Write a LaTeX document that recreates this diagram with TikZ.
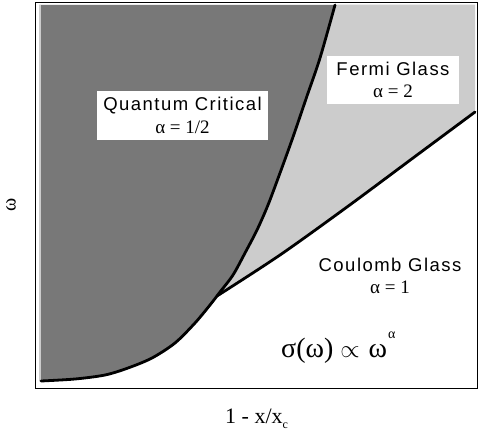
\documentclass[tikz,border=0pt]{standalone}
\usepackage{fontspec}
\setmainfont{Liberation Serif}
\setsansfont{Liberation Sans}
\usetikzlibrary{positioning}

\definecolor{critgray}{gray}{0.47}
\definecolor{glassgray}{gray}{0.8}
\newcommand{\alphafont}{\fontsize{19}{19}\selectfont\rmfamily}

\begin{document}
\begin{tikzpicture}[
    x=1pt, y=-1pt,
    boundary/.style={line width=2.8pt, black, line join=round, line cap=round},
    phasetext/.style={align=center, inner sep=0pt, font=\fontsize{18.5}{22.5}\selectfont\sffamily\addfontfeature{LetterSpace=8}},
    phasebox/.style={phasetext, fill=white},
    axislabel/.style={inner sep=0pt, font=\fontsize{22}{22}\selectfont\rmfamily}
]
\useasboundingbox (0,0) rectangle (478,431);
\fill[white] (0,0) rectangle (478,431);

% Regions
\fill[glassgray] (39,4.5) -- (475,4.5) -- (475,112)
    -- plot[smooth] coordinates {(475,112) (413,158) (347,207) (280,255) (217,296)}
    -- (41,381) -- (39,381) -- cycle;
\fill[critgray] (41,5) -- (41,381)
    -- plot[smooth] coordinates {(41,381) (75,379) (105,375) (128,368) (152,358) (175,343) (195,323) (210,305) (220,292) (233,275) (245,253) (257,230) (268,205) (280,173) (293,137) (307,96) (320,58) (335,5)}
    -- cycle;

% Phase boundaries
\draw[boundary] plot[smooth] coordinates {(41,381) (75,379) (105,375) (128,368) (152,358) (175,343) (195,323) (210,305) (220,292) (233,275) (245,253) (257,230) (268,205) (280,173) (293,137) (307,96) (320,58) (335,5)};
\draw[boundary] plot[smooth] coordinates {(217,296) (280,255) (347,207) (413,158) (475,112)};

% Frame
\draw[line width=1pt] (35.5,2) rectangle (477.5,388.5);

% Phase labels
\node[phasebox, minimum width=171pt, minimum height=49pt] (quantum) at (182.5,115.5)
    {Quantum Critical\\[1pt]{\alphafont α = 1/2}};
\node[phasebox, minimum width=132pt, minimum height=48pt] (fermi) at (393,80)
    {Fermi Glass\\{\alphafont α = 2}};
\node[phasetext] (coulomb) at (390,276)
    {Coulomb Glass\\{\alphafont α = 1}};

% Power law
\node[anchor=base west, inner sep=0pt, font=\fontsize{28}{28}\selectfont\rmfamily] (law) at (281,357)
    {σ(ω)\hspace{7pt}$\propto$\hspace{9pt}ω\hspace{1pt}\raisebox{19pt}{\fontsize{14}{14}\selectfont α}};

% Axes
\node[axislabel, rotate=90, anchor=base, font=\fontsize{20}{20}\selectfont\rmfamily] (omega) at (15.5,205) {ω};
\node[axislabel, anchor=base west] (xaxis) at (225,423)
    {1 - x/x\raisebox{-5pt}{\fontsize{12}{12}\selectfont c}};

\end{tikzpicture}
\end{document}
